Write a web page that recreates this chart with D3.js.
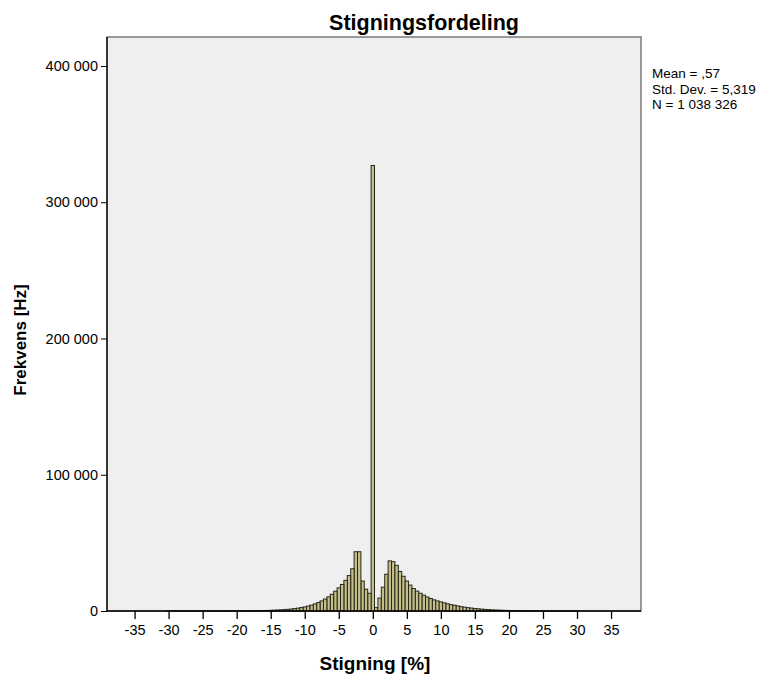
<!DOCTYPE html>
<html>
<head>
<meta charset="utf-8">
<script src="https://cdnjs.cloudflare.com/ajax/libs/d3/7.8.5/d3.min.js"></script>
<style>
  body { margin: 0; background: #fff; }
  svg text { font-family: Arial, "Liberation Sans", sans-serif; fill: #000; }
</style>
</head>
<body>
<div id="hist"></div>
<script>
// bin width 0.5 %, bins centred on multiples of 0.5
var binWidth = 0.5;
var zeroCount = 327000;
// counts for bins -0.5, -1.0, -1.5 ... going left
var negCounts = [13000, 16000, 22000, 43500, 43500, 31000, 26000, 22500, 19500, 17000,
    14500, 12300, 10400, 8800, 7400, 6200, 5200, 4300, 3600, 3000,
    2500, 2100, 1750, 1450, 1200, 1000, 840, 700, 590, 490,
    410, 350, 300, 255, 215, 185, 155, 130, 110, 95,
    80, 68, 58, 50, 43, 37, 32, 27, 23, 20,
    17, 15, 13, 11, 9, 8, 7, 6, 5, 4];
// counts for bins 0.5, 1.0, 1.5 ... going right
var posCounts = [2500, 9500, 17500, 27000, 36800, 36200, 33500, 29000, 25500, 22000,
    19000, 16500, 14600, 13000, 11600, 10300, 9200, 8200, 7400, 6700,
    6000, 5300, 4700, 4200, 3700, 3200, 2800, 2450, 2150, 1850,
    1600, 1380, 1180, 1000, 860, 740, 630, 540, 460, 400,
    340, 290, 250, 215, 185, 160, 135, 115, 100, 85,
    72, 62, 53, 45, 38, 32, 27, 23, 19, 16];
var xTicks = [-35, -30, -25, -20, -15, -10, -5, 0, 5, 10, 15, 20, 25, 30, 35];
var yTicks = [0, 100000, 200000, 300000, 400000];
var statLines = ["Mean = ,57", "Std. Dev. = 5,319", "N = 1 038 326"];

var bins = [{ x: 0, n: zeroCount }];
negCounts.forEach(function (n, i) { bins.push({ x: -(i + 1) * binWidth, n: n }); });
posCounts.forEach(function (n, i) { bins.push({ x: (i + 1) * binWidth, n: n }); });

var W = 771, H = 675;
var plot = { left: 107, right: 641, top: 37, bottom: 611 };

var svg = d3.select("#hist").append("svg")
    .attr("width", W)
    .attr("height", H);

var x = d3.scaleLinear().domain([-39.05, 39.4]).range([plot.left, plot.right]);
var y = d3.scaleLinear().domain([0, 421300]).range([plot.bottom, plot.top]);

// plot background
svg.append("rect")
    .attr("x", plot.left)
    .attr("y", plot.top)
    .attr("width", plot.right - plot.left)
    .attr("height", plot.bottom - plot.top)
    .attr("fill", "#efefef")
    .attr("stroke", "#7a7a7a")
    .attr("stroke-width", 1.5);

svg.append("g")
    .selectAll("rect")
    .data(bins)
    .enter().append("rect")
    .attr("x", function (d) { return x(d.x - binWidth / 2); })
    .attr("width", function (d) { return x(d.x + binWidth / 2) - x(d.x - binWidth / 2); })
    .attr("y", function (d) { return y(d.n); })
    .attr("height", function (d) { return y(0) - y(d.n); })
    .attr("fill", "#c4bf8a")
    .attr("stroke", "#26261b")
    .attr("stroke-width", 1);

var fmt = function (d) { return d3.format(",")(d).replace(/,/g, " "); };

var yAxis = svg.append("g")
    .attr("transform", "translate(" + plot.left + ",0)")
    .call(d3.axisLeft(y).tickValues(yTicks).tickFormat(fmt).tickSize(6).tickPadding(3));
yAxis.select(".domain").remove();
yAxis.selectAll("text").style("font-size", "14.5px");

// plain hyphen for negatives, like the original
var xAxis = svg.append("g")
    .attr("transform", "translate(0," + plot.bottom + ")")
    .call(d3.axisBottom(x).tickValues(xTicks).tickFormat(function (d) { return String(d); })
        .tickSize(8).tickPadding(6));
xAxis.select(".domain").remove();
xAxis.selectAll("text").style("font-size", "14.5px");
xAxis.selectAll("line").attr("stroke-width", 1.3);

// axis lines
svg.append("line")
    .attr("x1", plot.left).attr("x2", plot.left)
    .attr("y1", plot.top).attr("y2", plot.bottom)
    .attr("stroke", "#000").attr("stroke-width", 1.3);
svg.append("line")
    .attr("x1", plot.left).attr("x2", plot.right)
    .attr("y1", plot.bottom).attr("y2", plot.bottom)
    .attr("stroke", "#000").attr("stroke-width", 1.3);

svg.append("text")
    .attr("x", 424)
    .attr("y", 30)
    .attr("text-anchor", "middle")
    .style("font-size", "21.5px")
    .style("font-weight", "bold")
    .text("Stigningsfordeling");

svg.append("text")
    .attr("transform", "translate(26,340) rotate(-90)")
    .attr("text-anchor", "middle")
    .style("font-size", "17px")
    .style("font-weight", "bold")
    .text("Frekvens [Hz]");

svg.append("text")
    .attr("x", 375)
    .attr("y", 670)
    .attr("text-anchor", "middle")
    .style("font-size", "19px")
    .style("font-weight", "bold")
    .text("Stigning [%]");

svg.append("g")
    .selectAll("text")
    .data(statLines)
    .enter().append("text")
    .attr("x", 652)
    .attr("y", function (d, i) { return 78 + i * 15.5; })
    .style("font-size", "13.5px")
    .text(function (d) { return d; });
</script>
</body>
</html>
